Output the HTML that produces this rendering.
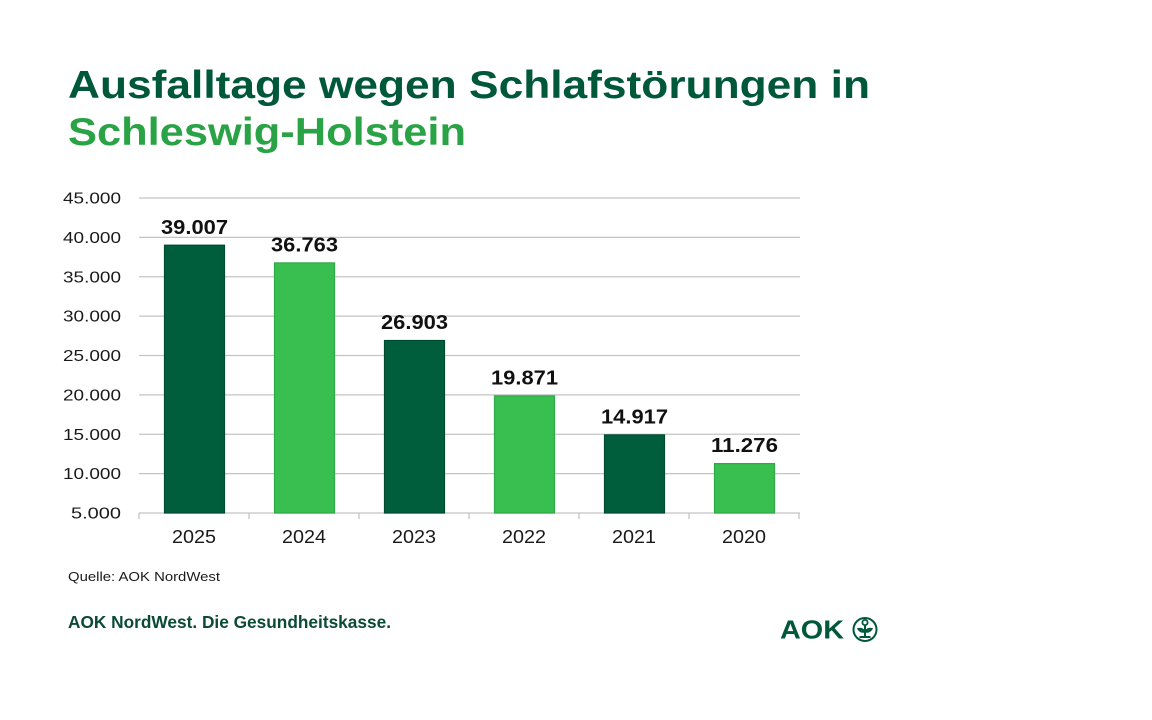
<!DOCTYPE html>
<html><head><meta charset="utf-8"><style>
html,body{margin:0;padding:0;background:#fff;}
svg{display:block;font-family:"Liberation Sans",sans-serif;}
</style></head><body>
<svg width="1152" height="720" viewBox="0 0 1152 720" xmlns="http://www.w3.org/2000/svg">
<rect width="1152" height="720" fill="#fff"/>
<text x="68" y="98" font-size="39" font-weight="bold" fill="#00583a" textLength="802" lengthAdjust="spacingAndGlyphs">Ausfalltage wegen Schlafstörungen in</text>
<text x="68" y="145" font-size="39" font-weight="bold" fill="#2aa346" textLength="398" lengthAdjust="spacingAndGlyphs">Schleswig-Holstein</text>
<g stroke="#c4c4c4" stroke-width="1.3">
<line x1="139" y1="198" x2="800" y2="198"/>
<line x1="139" y1="237.4" x2="800" y2="237.4"/>
<line x1="139" y1="276.75" x2="800" y2="276.75"/>
<line x1="139" y1="316.1" x2="800" y2="316.1"/>
<line x1="139" y1="355.5" x2="800" y2="355.5"/>
<line x1="139" y1="394.9" x2="800" y2="394.9"/>
<line x1="139" y1="434.25" x2="800" y2="434.25"/>
<line x1="139" y1="473.6" x2="800" y2="473.6"/>
<line x1="139" y1="513" x2="800" y2="513"/>
<line x1="139" y1="513" x2="139" y2="519"/>
<line x1="249" y1="513" x2="249" y2="519"/>
<line x1="359" y1="513" x2="359" y2="519"/>
<line x1="469" y1="513" x2="469" y2="519"/>
<line x1="579" y1="513" x2="579" y2="519"/>
<line x1="689" y1="513" x2="689" y2="519"/>
<line x1="799" y1="513" x2="799" y2="519"/>
</g>
<g font-size="16" fill="#1a1a1a" text-anchor="end">
<text x="121" y="203.5" textLength="58" lengthAdjust="spacingAndGlyphs">45.000</text>
<text x="121" y="242.9" textLength="58" lengthAdjust="spacingAndGlyphs">40.000</text>
<text x="121" y="282.25" textLength="58" lengthAdjust="spacingAndGlyphs">35.000</text>
<text x="121" y="321.6" textLength="58" lengthAdjust="spacingAndGlyphs">30.000</text>
<text x="121" y="361" textLength="58" lengthAdjust="spacingAndGlyphs">25.000</text>
<text x="121" y="400.4" textLength="58" lengthAdjust="spacingAndGlyphs">20.000</text>
<text x="121" y="439.75" textLength="58" lengthAdjust="spacingAndGlyphs">15.000</text>
<text x="121" y="479.1" textLength="58" lengthAdjust="spacingAndGlyphs">10.000</text>
<text x="121" y="518.5" textLength="50" lengthAdjust="spacingAndGlyphs">5.000</text>
</g>
<g stroke-width="1.2">
<rect x="164.5" y="245.2" width="60" height="267.8" fill="#005e3d" stroke="#004a30"/>
<rect x="274.5" y="262.9" width="60" height="250.1" fill="#38bf50" stroke="#2fa846"/>
<rect x="384.5" y="340.5" width="60" height="172.5" fill="#005e3d" stroke="#004a30"/>
<rect x="494.5" y="395.9" width="60" height="117.1" fill="#38bf50" stroke="#2fa846"/>
<rect x="604.5" y="434.9" width="60" height="78.1" fill="#005e3d" stroke="#004a30"/>
<rect x="714.5" y="463.6" width="60" height="49.4" fill="#38bf50" stroke="#2fa846"/>
</g>
<g font-size="20" font-weight="bold" fill="#111" text-anchor="middle">
<text x="194.5" y="234" textLength="67" lengthAdjust="spacingAndGlyphs">39.007</text>
<text x="304.5" y="251.5" textLength="67" lengthAdjust="spacingAndGlyphs">36.763</text>
<text x="414.5" y="329" textLength="67" lengthAdjust="spacingAndGlyphs">26.903</text>
<text x="524.5" y="384.5" textLength="67" lengthAdjust="spacingAndGlyphs">19.871</text>
<text x="634.5" y="423.5" textLength="67" lengthAdjust="spacingAndGlyphs">14.917</text>
<text x="744.5" y="452" textLength="67" lengthAdjust="spacingAndGlyphs">11.276</text>
</g>
<g font-size="18" fill="#1a1a1a" text-anchor="middle">
<text x="194" y="543" textLength="44" lengthAdjust="spacingAndGlyphs">2025</text>
<text x="304" y="543" textLength="44" lengthAdjust="spacingAndGlyphs">2024</text>
<text x="414" y="543" textLength="44" lengthAdjust="spacingAndGlyphs">2023</text>
<text x="524" y="543" textLength="44" lengthAdjust="spacingAndGlyphs">2022</text>
<text x="634" y="543" textLength="44" lengthAdjust="spacingAndGlyphs">2021</text>
<text x="744" y="543" textLength="44" lengthAdjust="spacingAndGlyphs">2020</text>
</g>
<text x="68" y="581" font-size="12.5" fill="#1a1a1a" textLength="152" lengthAdjust="spacingAndGlyphs">Quelle: AOK NordWest</text>
<text x="68" y="628" font-size="17.5" font-weight="bold" fill="#0b4a33" textLength="323" lengthAdjust="spacingAndGlyphs">AOK NordWest. Die Gesundheitskasse.</text>
<text x="780" y="638.5" font-size="26" font-weight="bold" fill="#00583a" textLength="64" lengthAdjust="spacingAndGlyphs">AOK</text>
<g fill="none" stroke="#00583a" stroke-width="2">
<circle cx="865" cy="629.5" r="11.5"/>
<line x1="865" y1="625" x2="865" y2="637"/>
<line x1="859.5" y1="637" x2="870.5" y2="637"/>
<path d="M858.5 629 q3.5 -1 6 2.5 q-3.5 1 -6 -2.5z"/>
<path d="M871.5 629 q-3.5 -1 -6 2.5 q3.5 1 6 -2.5z"/>
</g>
<circle cx="865" cy="622.5" r="2.6" fill="none" stroke="#00583a" stroke-width="1.8"/>
</svg>
</body></html>
